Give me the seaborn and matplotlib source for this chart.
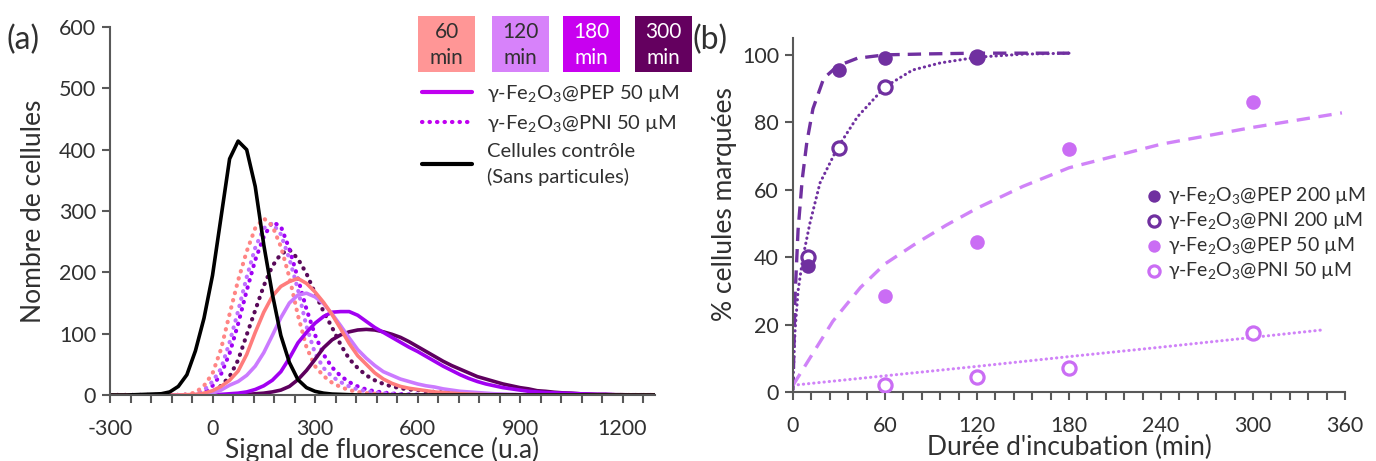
import matplotlib
matplotlib.use("Agg")
import matplotlib.pyplot as plt
import seaborn as sns
from matplotlib.lines import Line2D
from matplotlib.patches import Rectangle
from matplotlib.ticker import MultipleLocator

# (a) flow cytometry histograms, counts every 25 u.a.
signal = [-300, -275, -250, -225, -200, -175, -150, -125, -100, -75, -50, -25, 0,
          25, 50, 75, 100, 125, 150, 175, 200, 225, 250, 275, 300, 325,
          350, 375, 400, 425, 450, 475, 500, 525, 550, 575, 600, 625, 650,
          675, 700, 725, 750, 775, 800, 825, 850, 875, 900, 925, 950, 975,
          1000, 1025, 1050, 1075, 1100, 1125, 1150, 1175, 1200, 1225, 1250, 1275, 1300]

control = [0, 0, 0, 0.5, 1, 1.5, 2, 5, 14, 33, 72, 125, 195,
           290, 385, 414, 400, 340, 245, 165, 97, 53, 25, 12, 6, 3,
           1.5, 1, 0.5, 0, 0, 0, 0, 0, 0, 0, 0, 0, 0,
           0, 0, 0, 0, 0, 0, 0, 0, 0, 0, 0, 0, 0,
           0, 0, 0, 0, 0, 0, 0, 0, 0, 0, 0, 0, 0]

pni_60 = [0, 0, 0, 0, 0, 0, 0, 0, 0, 1, 4, 15, 35,
          75, 132, 187, 234, 272, 288, 276, 242, 192, 130, 78, 47, 31,
          20, 13, 8, 5, 3, 2, 1, 0.5, 0, 0, 0, 0, 0,
          0, 0, 0, 0, 0, 0, 0, 0, 0, 0, 0, 0, 0,
          0, 0, 0, 0, 0, 0, 0, 0, 0, 0, 0, 0, 0]

pni_120 = [0, 0, 0, 0, 0, 0, 0, 0, 0, 0.5, 2, 8, 22,
           43, 86, 137, 192, 240, 272, 280, 262, 222, 172, 112, 68, 44,
           30, 21, 14, 9, 6, 4, 3, 2, 1, 0.5, 0, 0, 0,
           0, 0, 0, 0, 0, 0, 0, 0, 0, 0, 0, 0, 0,
           0, 0, 0, 0, 0, 0, 0, 0, 0, 0, 0, 0, 0]

pni_180 = [0, 0, 0, 0, 0, 0, 0, 0, 0, 0.5, 1, 4, 15,
           34, 68, 116, 170, 220, 258, 282, 275, 238, 190, 140, 98, 66,
           45, 31, 21, 14, 9, 6, 4, 2.5, 1.5, 1, 0.5, 0, 0,
           0, 0, 0, 0, 0, 0, 0, 0, 0, 0, 0, 0, 0,
           0, 0, 0, 0, 0, 0, 0, 0, 0, 0, 0, 0, 0]

pni_300 = [0, 0, 0, 0, 0, 0, 0, 0, 0, 0, 0.5, 1, 5,
           15, 30, 57, 98, 138, 178, 210, 230, 237, 222, 198, 166, 136,
           110, 82, 59, 44, 32, 24, 18, 14, 11, 9, 8, 6, 5,
           4, 3, 2, 1, 1, 0.5, 0, 0, 0, 0, 0, 0, 0,
           0, 0, 0, 0, 0, 0, 0, 0, 0, 0, 0, 0, 0]

pep_60 = [0, 0, 0, 0, 0, 0, 0, 0, 0, 0.5, 1, 3, 7,
          14, 24, 39, 66, 102, 135, 161, 177, 185, 190, 182, 168, 151,
          131, 108, 84, 64, 50, 36, 26, 19, 14, 11, 9, 7, 5,
          4, 3, 2, 1.5, 1, 0.5, 0, 0, 0, 0, 0, 0, 0,
          0, 0, 0, 0, 0, 0, 0, 0, 0, 0, 0, 0, 0]

pep_120 = [0, 0, 0, 0, 0, 0, 0, 0, 0, 0, 0.5, 1, 3,
           8, 16, 22, 32, 47, 69, 97, 126, 150, 163, 166, 160, 149,
           132, 113, 93, 74, 60, 48, 38, 32, 26, 22, 18, 15, 13,
           10, 8, 6, 5, 4, 3, 2, 1.5, 1, 0.5, 0, 0, 0,
           0, 0, 0, 0, 0, 0, 0, 0, 0, 0, 0, 0, 0]

pep_180 = [0, 0, 0, 0, 0, 0, 0, 0, 0, 0, 0, 0, 0.5,
           1, 2, 3, 5, 9, 15, 24, 38, 60, 85, 102, 117, 128,
           135, 136, 136, 130, 120, 110, 102, 94, 86, 78, 71, 63, 55,
           47, 40, 33, 27, 22, 18, 15, 12, 10, 8, 6, 5, 4,
           3.5, 3, 2.5, 2, 1.5, 1, 1, 0.5, 0, 0, 0, 0, 0]

pep_300 = [0, 0, 0, 0, 0, 0, 0, 0, 0, 0, 0, 0, 0,
           0, 0, 0.5, 1, 2, 3, 5, 8, 14, 25, 40, 58, 77,
           90, 98, 103, 106, 107, 106, 103, 99, 94, 87, 79, 71, 63,
           55, 48, 42, 36, 30, 26, 22, 18, 15, 12, 10, 7, 6,
           4.5, 3.5, 3, 2, 1.5, 1, 1, 0.5, 0.5, 0, 0, 0, 0]

durations = ["60\nmin", "120\nmin", "180\nmin", "300\nmin"]

# (b) labelling kinetics
t_200 = [10, 30, 60, 120]
pep_200_pts = [37.5, 95.5, 99.2, 99.4]
pni_200_pts = [40, 72.4, 90.6, 99.5]
t_50 = [60, 120, 180, 300]
pep_50_pts = [28.5, 44.5, 72, 86]
pni_50_pts = [2, 4.5, 7, 17.5]

# fitted curves as drawn in the figure
pep_200_fit_t = [0, 1.3, 3.3, 6, 9, 13, 20, 29, 42, 60, 90, 120, 150, 180]
pep_200_fit = [0.5, 28, 48, 63, 74, 84, 93, 96.7, 99, 100, 100.3, 100.5, 100.5, 100.5]
pni_200_fit_t = [0, 1.3, 3.3, 6.5, 11, 17.6, 29, 42, 60, 78, 96, 120, 150, 180]
pni_200_fit = [2.7, 18, 30, 40, 50, 62, 72.4, 81.6, 90.5, 95.5, 97.6, 99.3, 100.2, 100.5]
pep_50_fit_t = [0, 13, 26, 44, 60, 80, 100, 120, 150, 180, 240, 300, 358]
pep_50_fit = [2, 11.5, 21, 31, 38, 44, 49.5, 54.5, 61, 66.5, 73.5, 78.5, 82.8]
pni_50_fit_t = [0, 60, 120, 180, 240, 300, 345]
pni_50_fit = [2, 4.8, 7.6, 10.5, 13.3, 16.2, 18.4]

sns.set_style("ticks")
plt.rcParams["font.family"] = ["Lato", "DejaVu Sans"]
plt.rcParams["mathtext.fontset"] = "custom"
plt.rcParams["mathtext.rm"] = "Lato"
plt.rcParams["mathtext.it"] = "Lato:italic"
plt.rcParams["mathtext.bf"] = "Lato:bold"
plt.rcParams["axes.unicode_minus"] = False

W, H = 1376, 461
fig = plt.figure(figsize=(W / 100, H / 100), dpi=100)

axis_col = "#595959"
text_col = "#303030"
dots = (0, (0.1, 1.7))

box_cols = ["#FF9696", "#D782FA", "#C800F0", "#64005F"]
curve_cols = ["#FF7C7C", "#CB7AFF", "#A200F2", "#5E005E"]
dot_cols = ["#FF8585", "#C070FF", "#A000F5", "#5A0A5A"]


def style_axes(ax):
    sns.despine(ax=ax)
    for s in ["left", "bottom"]:
        ax.spines[s].set_color(axis_col)
        ax.spines[s].set_linewidth(1.5)
    ax.tick_params(which="both", direction="out", length=6, width=1.5,
                   color=axis_col, labelsize=15.5, labelcolor=text_col)
    ax.tick_params(axis="x", which="both", pad=11)
    ax.tick_params(axis="y", pad=4)


# ---------------- panel (a) ----------------
ax_a = fig.add_axes([110 / W, 1 - 395 / H, 545 / W, 368 / H])

for y, c in zip([pni_300, pni_180, pni_120, pni_60], dot_cols[::-1]):
    sns.lineplot(x=signal, y=y, ax=ax_a, color=c, lw=3, linestyle=dots,
                 dash_capstyle="round", errorbar=None)
for y, c in zip([pep_300, pep_180, pep_120, pep_60], curve_cols[::-1]):
    sns.lineplot(x=signal, y=y, ax=ax_a, color=c, lw=2.6, errorbar=None)
sns.lineplot(x=signal, y=control, ax=ax_a, color="black", lw=2.6, errorbar=None)

ax_a.set_xlim(-300, 1295)
ax_a.set_ylim(0, 600)
ax_a.xaxis.set_major_locator(MultipleLocator(300))
ax_a.xaxis.set_minor_locator(MultipleLocator(60))
ax_a.yaxis.set_major_locator(MultipleLocator(100))
style_axes(ax_a)
ax_a.set_xlabel("Signal de fluorescence (u.a)", fontsize=19, color=text_col)
ax_a.set_ylabel("Nombre de cellules", fontsize=19, color=text_col)
ax_a.xaxis.set_label_coords(0.5, -0.115)
ax_a.yaxis.set_label_coords(-0.117, 0.5)

# duration colour boxes
box_x = [418, 492, 563, 635]
for bx, lab, bc in zip(box_x, durations, box_cols):
    fig.patches.append(Rectangle((bx / W, 1 - 72 / H), 57 / W, 56 / H,
                                 transform=fig.transFigure, facecolor=bc,
                                 edgecolor="none"))
    tc = "white" if bc in box_cols[2:] else text_col
    fig.text((bx + 28.5) / W, 1 - 45 / H, lab, ha="center", va="center",
             fontsize=15, color=tc, linespacing=1.35)

handles = [
    Line2D([], [], color="#C000F0", lw=3),
    Line2D([], [], color="#C000F0", lw=3, linestyle=dots, dash_capstyle="round"),
    Line2D([], [], color="black", lw=3),
]
labels = [r"γ-Fe$_2$O$_3$@PEP 50 µM", r"γ-Fe$_2$O$_3$@PNI 50 µM",
          "Cellules contrôle\n(Sans particules)"]
leg_a = ax_a.legend(handles, labels, loc="upper left",
                    bbox_to_anchor=(422 / W, 1 - 83 / H),
                    bbox_transform=fig.transFigure, frameon=False,
                    fontsize=14.5, handlelength=2.5, handletextpad=0.75,
                    labelspacing=0.45, borderpad=0, borderaxespad=0)
for t in leg_a.get_texts():
    t.set_color(text_col)
    t.set_linespacing(1.5)

# ---------------- panel (b) ----------------
ax_b = fig.add_axes([793 / W, 1 - 392 / H, 552 / W, 354 / H])

dark = "#7030A0"
light_line = "#D083F8"
light_pt = "#CA6DF4"

sns.lineplot(x=pep_200_fit_t, y=pep_200_fit, ax=ax_b, color=dark, lw=2.4,
             linestyle=(0, (4, 2.4)), errorbar=None)
sns.lineplot(x=pni_200_fit_t, y=pni_200_fit, ax=ax_b, color=dark, lw=2.2,
             linestyle=(0, (0.1, 1.6)), dash_capstyle="round", errorbar=None)
sns.lineplot(x=pep_50_fit_t, y=pep_50_fit, ax=ax_b, color=light_line, lw=2.4,
             linestyle=(0, (4, 2.6)), errorbar=None)
sns.lineplot(x=pni_50_fit_t, y=pni_50_fit, ax=ax_b, color=light_line, lw=2.2,
             linestyle=(0, (0.1, 1.6)), dash_capstyle="round", errorbar=None)

sns.scatterplot(x=t_200, y=pep_200_pts, ax=ax_b, color=dark, s=110,
                edgecolor=dark, linewidth=0,
                label=r"γ-Fe$_2$O$_3$@PEP 200 µM", zorder=6)
sns.scatterplot(x=t_200, y=pni_200_pts, ax=ax_b, color="white", s=90,
                edgecolor=dark, linewidth=2.3,
                label=r"γ-Fe$_2$O$_3$@PNI 200 µM", zorder=5)
sns.scatterplot(x=t_50, y=pep_50_pts, ax=ax_b, color=light_pt, s=110,
                edgecolor=light_pt, linewidth=0,
                label=r"γ-Fe$_2$O$_3$@PEP 50 µM", zorder=6)
sns.scatterplot(x=t_50, y=pni_50_pts, ax=ax_b, color="white", s=90,
                edgecolor=light_pt, linewidth=2.3,
                label=r"γ-Fe$_2$O$_3$@PNI 50 µM", zorder=5)

ax_b.set_xlim(0, 360)
ax_b.set_ylim(0, 105)
ax_b.xaxis.set_major_locator(MultipleLocator(60))
ax_b.xaxis.set_minor_locator(MultipleLocator(12))
ax_b.yaxis.set_major_locator(MultipleLocator(20))
style_axes(ax_b)
ax_b.set_xlabel("Durée d'incubation (min)", fontsize=19, color=text_col)
ax_b.set_ylabel("% cellules marquées", fontsize=19, color=text_col)
ax_b.xaxis.set_label_coords(0.5, -0.12)
ax_b.yaxis.set_label_coords(-0.101, 0.53)

leg_b = ax_b.legend(loc="center left", bbox_to_anchor=(0.64, 0.449),
                    frameon=False, fontsize=14, handlelength=0.8,
                    handletextpad=0.3, labelspacing=0.2, borderpad=0,
                    borderaxespad=0, markerscale=0.85)
for t in leg_b.get_texts():
    t.set_color(text_col)

fig.text(6 / W, 1 - 40 / H, "(a)", fontsize=23, va="center", color=text_col)
fig.text(693 / W, 1 - 40 / H, "(b)", fontsize=23, va="center", color=text_col)

fig.savefig("out.png", dpi=100)
